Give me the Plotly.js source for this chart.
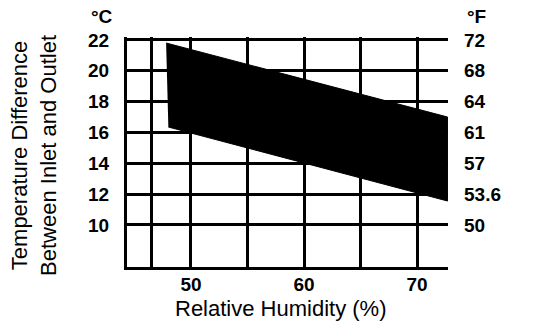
<!DOCTYPE html>
<html>
<head>
<meta charset="utf-8">
<script src="https://cdn.plot.ly/plotly-3.0.1.min.js"></script>
<style>html,body{margin:0;padding:0;background:#fff;}#chart{width:544px;height:334px;}</style>
</head>
<body>
<div id="chart"></div>
<script>
// Data
const humidityUpper = [47.8, 72.7];
const tempUpperC = [21.8, 17.0];
const humidityLower = [48.0, 72.7];
const tempLowerC = [16.35, 11.55];

const xGridVals = [46.5, 50, 55, 60, 65, 70];
const xTickText = ['', '50', '', '60', '', '70'];
const cTickVals = [10, 12, 14, 16, 18, 20, 22];
const cTickText = ['10', '12', '14', '16', '18', '20', '22'];
const fTickText = ['50', '53.6', '57', '61', '64', '68', '72'];

const fam = 'Liberation Sans, Arial, sans-serif';
const font = {family: fam, size: 19, color: '#000', weight: 'bold'};
const titleFont = {family: fam, size: 22, color: '#000', weight: 'normal'};

// band polygon: upper edge left->right, lower edge right->left
const bandX = humidityUpper.concat(humidityLower.slice().reverse());
const bandY = tempUpperC.concat(tempLowerC.slice().reverse());

const traces = [
  {x: bandX, y: bandY, type: 'scatter', mode: 'lines', fill: 'toself',
   fillcolor: '#000', line: {color: '#000', width: 1}, hoverinfo: 'skip', showlegend: false},
  {x: [null], y: [null], yaxis: 'y2', type: 'scatter', showlegend: false, hoverinfo: 'skip'}
];

const layout = {
  width: 544, height: 334,
  margin: {l: 127, r: 96, t: 37, b: 67},
  paper_bgcolor: '#fff', plot_bgcolor: '#fff',
  font: {family: fam, size: 19, color: '#000'},
  showlegend: false,
  xaxis: {
    range: [44.34, 72.74], tickmode: 'array', tickvals: xGridVals, ticktext: xTickText,
    showgrid: true, gridcolor: '#000', gridwidth: 3,
    showline: true, linecolor: '#000', linewidth: 3,
    ticks: '', ticklabelstandoff: -2, zeroline: false,
    tickfont: font, fixedrange: true
  },
  yaxis: {
    range: [7.27, 22.19], tickmode: 'array', tickvals: cTickVals, ticktext: cTickText,
    showgrid: true, gridcolor: '#000', gridwidth: 3,
    showline: true, linecolor: '#000', linewidth: 3,
    ticks: '', ticklabelstandoff: 11, zeroline: false,
    tickfont: font, fixedrange: true
  },
  yaxis2: {
    overlaying: 'y', side: 'right', anchor: 'x',
    range: [7.27, 22.19], tickmode: 'array', tickvals: cTickVals, ticktext: fTickText,
    showgrid: false, showline: false, zeroline: false, ticks: '', ticklabelstandoff: 15,
    tickfont: font, fixedrange: true
  },
  annotations: [
    {text: '°C', xref: 'paper', yref: 'paper', x: -0.078, y: 1.087, xanchor: 'center', yanchor: 'middle',
     showarrow: false, font: font},
    {text: '°F', xref: 'paper', yref: 'paper', x: 1.09, y: 1.087, xanchor: 'center', yanchor: 'middle',
     showarrow: false, font: font},
    {text: 'Temperature Difference<br>Between Inlet and Outlet', xref: 'paper', yref: 'paper',
     x: -0.29, y: 0.487, xanchor: 'center', yanchor: 'middle', textangle: -90,
     showarrow: false, font: titleFont},
    {text: 'Relative Humidity (%)', xref: 'paper', yref: 'paper',
     x: 0.48, y: -0.18, xanchor: 'center', yanchor: 'middle',
     showarrow: false, font: titleFont}
  ]
};

Plotly.newPlot('chart', traces, layout, {displayModeBar: false, staticPlot: true});
</script>
</body>
</html>
